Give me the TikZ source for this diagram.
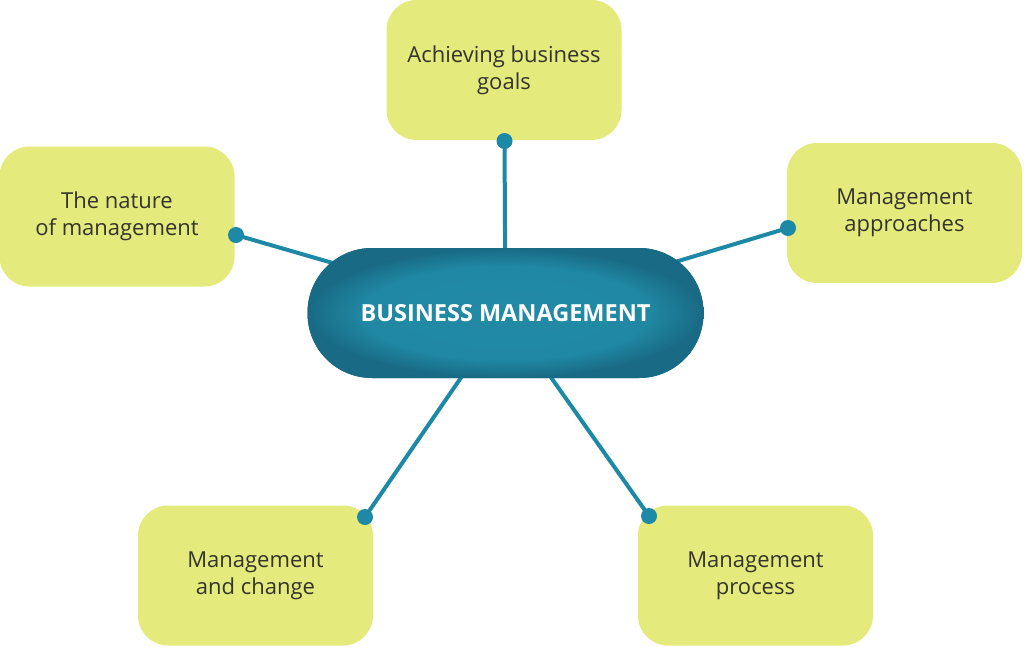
\documentclass[tikz,border=0pt]{standalone}
\usepackage{fontspec}
\setmainfont{Open Sans}
\definecolor{boxfill}{RGB}{229,234,124}
\definecolor{teal}{RGB}{30,137,166}
\definecolor{tealin}{RGB}{33,138,165}
\definecolor{tealmid}{RGB}{32,136,163}
\definecolor{tealout}{RGB}{25,106,132}
\definecolor{txt}{RGB}{52,52,44}
\pgfdeclareradialshading{hubshade}{\pgfpoint{0bp}{0bp}}{%
  color(0bp)=(tealin); color(18bp)=(tealmid); color(25bp)=(tealout); color(50bp)=(tealout)}
\tikzset{
  topic/.style={draw=none, fill=boxfill, rounded corners=30pt, minimum width=235pt, minimum height=140pt,
    align=center, text=txt, font=\fontsize{22}{27}\selectfont},
  hub/.style={rectangle, rounded corners=64.5pt, minimum width=396pt, minimum height=130pt,
    preaction={fill=tealout}, shading=hubshade,
    text=white, font=\fontsize{23.5}{26}\selectfont\bfseries},
  link/.style={draw=teal, line width=4pt},
  dot/.style={fill=teal}
}
\begin{document}
\begin{tikzpicture}[x=1pt,y=-1pt]
\useasboundingbox (0,0) rectangle (1024,646);
\fill[white] (0,0) rectangle (1024,646);
\node[topic] (goals) at (504,70) {Achieving business\\goals};
\node[topic] (nature) at (117,216.5) {The nature\\of management};
\node[topic] (appr) at (904.5,213) {Management\\approaches};
\node[topic] (change) at (255.5,575.5) {Management\\and change};
\node[topic] (proc) at (755.5,575.5) {Management\\process};
\coordinate (hubc) at (505.5,313);
\coordinate (dg) at (504.5,141);
\coordinate (dn) at (236,235);
\coordinate (da) at (788,228);
\coordinate (dc) at (365,517);
\coordinate (dp) at (649,516);
\foreach \d in {dg,dn,da,dc,dp}{
  \draw[link] (\d) -- (hubc);
  \fill[dot] (\d) circle (8pt);
}
\node[hub] (hub) at (hubc) {BUSINESS MANAGEMENT};
\end{tikzpicture}
\end{document}
